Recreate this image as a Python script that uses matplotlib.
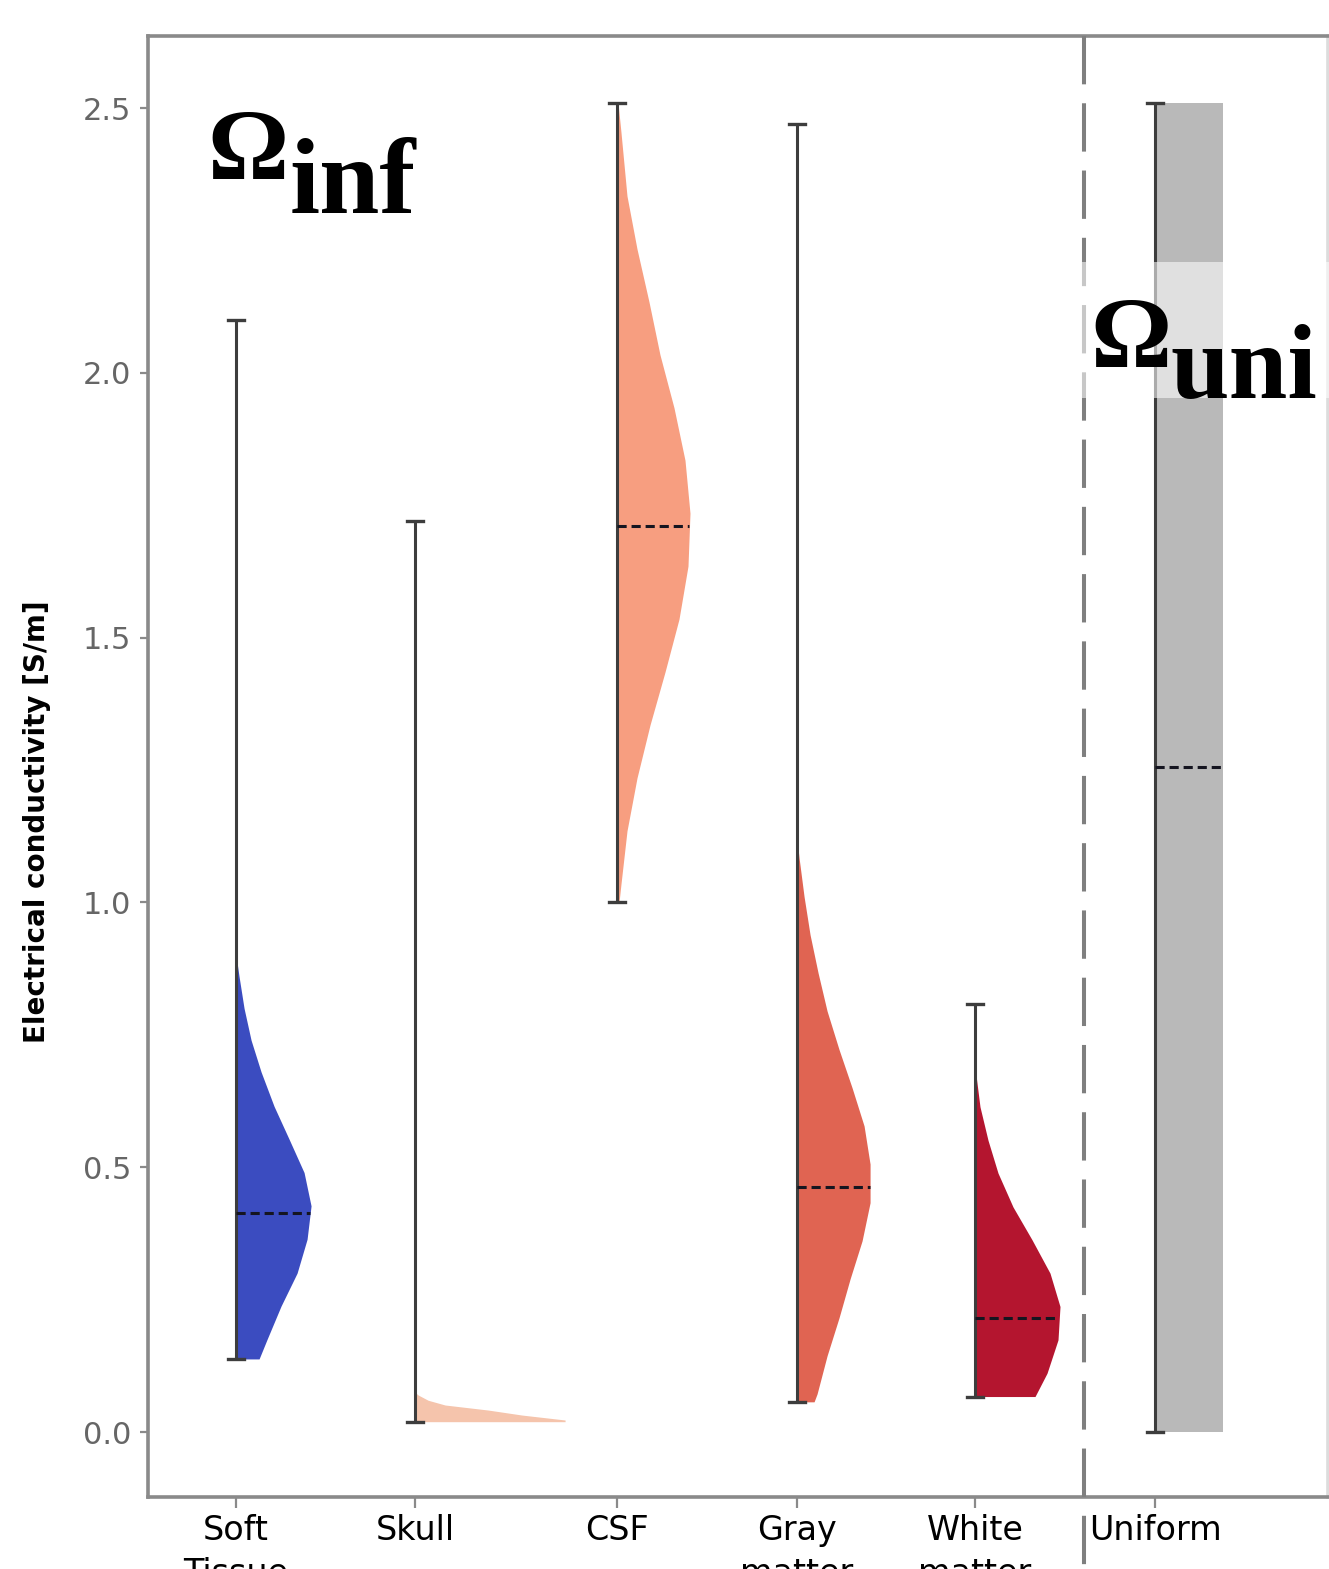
import matplotlib
matplotlib.use("Agg")
import matplotlib.pyplot as plt
from matplotlib.patches import Rectangle

# ---------------- data ----------------
categories = ["Soft\nTissue", "Skull", "CSF", "Gray\nmatter", "White\nmatter", "Uniform"]
colors = ["#3b4cc0", "#f5c4ac", "#f79e80", "#e06452", "#b4152f", "#b9b9b9"]

whisker_low = [0.138, 0.0195, 1.0, 0.057, 0.067, 0.0]
whisker_high = [2.10, 1.72, 2.51, 2.47, 0.809, 2.51]
medians = [0.413, None, 1.71, 0.463, 0.215, 1.256]

# density profiles: conductivity level -> relative half-violin width
soft_levels = [0.138, 0.175, 0.238, 0.30, 0.364, 0.427, 0.49, 0.553, 0.615, 0.68, 0.74, 0.80, 0.86, 0.90]
soft_density = [23, 31, 45, 61, 71, 75, 68, 53, 38, 25, 15, 8, 3, 0]

skull_levels = [0.0195, 0.0227, 0.032, 0.0415, 0.051, 0.06, 0.07, 0.075]
skull_density = [150, 150, 107, 73, 30, 13, 3, 0]

csf_levels = [1.0, 1.035, 1.135, 1.235, 1.335, 1.435, 1.535, 1.635, 1.735, 1.835,
              1.934, 2.034, 2.134, 2.234, 2.334, 2.454, 2.51]
csf_density = [2, 4, 10, 20, 33, 48, 62, 71, 73, 68, 57, 43, 32, 20, 10, 4, 1]

gray_levels = [0.057, 0.072, 0.144, 0.216, 0.289, 0.361, 0.433, 0.506, 0.578, 0.650,
               0.722, 0.795, 0.867, 0.939, 1.011, 1.084, 1.12]
gray_density = [17, 20, 30, 42, 53, 65, 73, 73, 67, 55, 42, 30, 21, 13, 7, 2, 0]

white_levels = [0.067, 0.111, 0.174, 0.237, 0.300, 0.363, 0.425, 0.489, 0.551, 0.614, 0.659, 0.69]
white_density = [60, 72, 83, 85, 75, 57, 38, 23, 13, 5, 2, 0]

uniform_levels = [0.0, 2.51]
uniform_density = [68, 68]

levels = [soft_levels, skull_levels, csf_levels, gray_levels, white_levels, uniform_levels]
densities = [soft_density, skull_density, csf_density, gray_density, white_density, uniform_density]

yticks = [0.0, 0.5, 1.0, 1.5, 2.0, 2.5]

# ---------------- layout ----------------
positions = [0.0, 1.0, 2.128, 3.134, 4.128, 5.134]
separator_x = 4.737
width_scale = 1 / 179.0

W, H = 1329, 1569
fig = plt.figure(figsize=(W / 100, H / 100), dpi=100)
ax = fig.add_axes([148 / W, 72 / H, 1180 / W, 1461 / H])
ax.set_xlim(-0.492, 6.10)
ax.set_ylim(-0.1227, 2.636)

for pos, lv, dens, col in zip(positions, levels, densities, colors):
    right = [pos + d * width_scale for d in dens]
    ax.fill_betweenx(lv, pos, right, color=col, linewidth=0, zorder=2)

# whiskers
cap = 0.045
wcol = "#3d3d3d"
for pos, lo, hi in zip(positions, whisker_low, whisker_high):
    ax.plot([pos, pos], [lo, hi], color=wcol, lw=2.2, zorder=3, solid_capstyle="butt")
    ax.plot([pos - cap, pos + cap], [lo, lo], color=wcol, lw=2.4, zorder=3)
    ax.plot([pos - cap, pos + cap], [hi, hi], color=wcol, lw=2.4, zorder=3)

# medians
for pos, med, lv, dens in zip(positions, medians, levels, densities):
    if med is None:
        continue
    wv = None
    for i in range(len(lv) - 1):
        if lv[i] <= med <= lv[i + 1]:
            t = (med - lv[i]) / (lv[i + 1] - lv[i])
            wv = dens[i] + t * (dens[i + 1] - dens[i])
            break
    ax.plot([pos, pos + wv * width_scale], [med, med], color="#151520", lw=2.2,
            linestyle=(0, (3, 1.6)), zorder=4)

# separator
ax.plot([separator_x, separator_x], [2.636, -0.5], color="#7f7f7f", lw=2.9,
        linestyle=(0, (12, 4.7)), clip_on=False, zorder=3)

# translucent box behind Omega_uni
ax.add_patch(Rectangle((0.79, 0.752), 0.25, 0.093, transform=ax.transAxes,
                       facecolor="white", alpha=0.57, edgecolor="none",
                       zorder=5, clip_on=False))

# spines & ticks
for s in ax.spines.values():
    s.set_color("#8a8a8a")
    s.set_linewidth(2.6)
ax.spines["right"].set_color("#dcdcdc")
ax.set_yticks(yticks)
ax.set_yticklabels([f"{v:.1f}" for v in yticks], fontsize=22, color="#666666")
ax.set_xticks(positions)
ax.set_xticklabels(categories, fontsize=24, color="black", linespacing=1.4)
ax.tick_params(axis="both", color="#8a8a8a", width=1.6)
ax.tick_params(axis="y", length=6, pad=6)
ax.tick_params(axis="x", length=8, pad=4)

fig.text(37 / W, 1 - 822 / H, "Electrical conductivity [S/m]", rotation=90,
         ha="center", va="center", fontsize=20, fontweight="bold")

serif = ["Liberation Serif", "DejaVu Serif"]
fig.text(207 / W, 1 - 180 / H, "Ω", fontsize=73, family=serif, weight="bold",
         va="baseline", ha="left", zorder=6)
fig.text(290 / W, 1 - 213 / H, "inf", fontsize=78, family=serif, weight="bold",
         va="baseline", ha="left", zorder=6)
fig.text(1090 / W, 1 - 368 / H, "Ω", fontsize=73, family=serif, weight="bold",
         va="baseline", ha="left", zorder=6)
fig.text(1170 / W, 1 - 398 / H, "uni", fontsize=76, family=serif, weight="bold",
         va="baseline", ha="left", zorder=6)

fig.savefig("out.png", dpi=100)
